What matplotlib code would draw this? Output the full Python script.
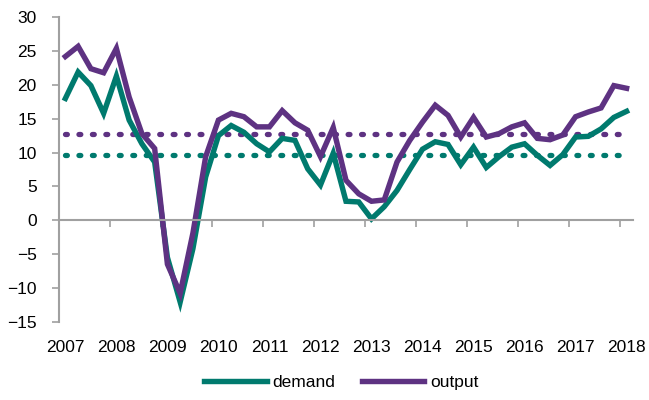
import numpy as np
import matplotlib
matplotlib.use("Agg")
import matplotlib.pyplot as plt

plt.rcParams['font.family'] = ['Liberation Sans', 'DejaVu Sans']

# quarterly, 2007Q1 - 2018Q1
years = [str(y) for y in range(2007, 2019)]
demand = [18.0, 21.9, 19.9, 15.8, 21.3, 14.8, 11.3, 8.6, -5.5, -12.1, -4.2,
          6.4, 12.5, 14.0, 13.0, 11.3, 10.1, 12.1, 11.8, 7.6, 5.2, 9.9, 2.8,
          2.7, 0.2, 2.0, 4.4, 7.5, 10.5, 11.6, 11.2, 8.2, 10.8, 7.8, 9.4,
          10.8, 11.3, 9.6, 8.1, 9.7, 12.3, 12.4, 13.5, 15.2, 16.1]
output = [24.2, 25.7, 22.4, 21.8, 25.4, 18.2, 12.8, 10.6, -6.5, -10.8, -1.9,
          9.4, 14.8, 15.8, 15.3, 13.8, 13.8, 16.2, 14.4, 13.3, 9.4, 13.7, 5.9,
          3.9, 2.8, 3.0, 8.6, 11.8, 14.5, 17.0, 15.5, 12.3, 15.2, 12.3, 12.8,
          13.8, 14.4, 12.1, 11.9, 12.6, 15.3, 16.0, 16.6, 19.9, 19.5]
demand_avg = 9.6
output_avg = 12.7

teal = '#007a6e'
purple = '#5e3282'
grey = '#a0a0a0'

x = np.arange(len(demand))

fig = plt.figure(figsize=(6.49, 4.0), dpi=100)
ax = fig.add_axes([0.0909, 0.1958, 0.8844, 0.761])

# long-run averages, dotted
ax.plot(x, [output_avg] * len(x), color=purple, lw=3.8,
        dashes=(0.35, 2.2), dash_capstyle='round')
ax.plot(x, [demand_avg] * len(x), color=teal, lw=3.8,
        dashes=(0.35, 2.2), dash_capstyle='round')

ax.plot(x, demand, color=teal, lw=3.9, solid_joinstyle='miter', label='demand')
ax.plot(x, output, color=purple, lw=3.9, solid_joinstyle='miter', label='output')

ax.set_xlim(-0.5, len(x) - 0.5)
ax.set_ylim(-15, 30)
ax.set_yticks(np.arange(-15, 31, 5))
ax.tick_params(axis='y', length=5, width=1.2, color=grey, pad=11, labelsize=12.5)

# horizontal axis line at zero with ticks between years
ax.spines['bottom'].set_position(('data', 0))
ax.set_xticks(np.arange(-0.5, len(x), 4))
ax.set_xticklabels([])
ax.tick_params(axis='x', length=5, width=1.2, color=grey)
for s in ['top', 'right']:
    ax.spines[s].set_visible(False)
for s in ['left', 'bottom']:
    ax.spines[s].set_color(grey)
    ax.spines[s].set_linewidth(1.5)

# year labels at the bottom of the plot
sec = ax.secondary_xaxis('bottom')
sec.set_xticks(np.arange(0, len(x), 4))
sec.set_xticklabels(years)
sec.tick_params(length=0, pad=13, labelsize=12.5)
sec.spines['bottom'].set_visible(False)

fig.legend(handles=ax.get_lines()[2:], loc='center', bbox_to_anchor=(0.526, 0.043),
           ncol=2, frameon=False, fontsize=12.5, handlelength=3.6,
           handletextpad=0.35, columnspacing=1.5)

fig.savefig('out.png', dpi=100)
